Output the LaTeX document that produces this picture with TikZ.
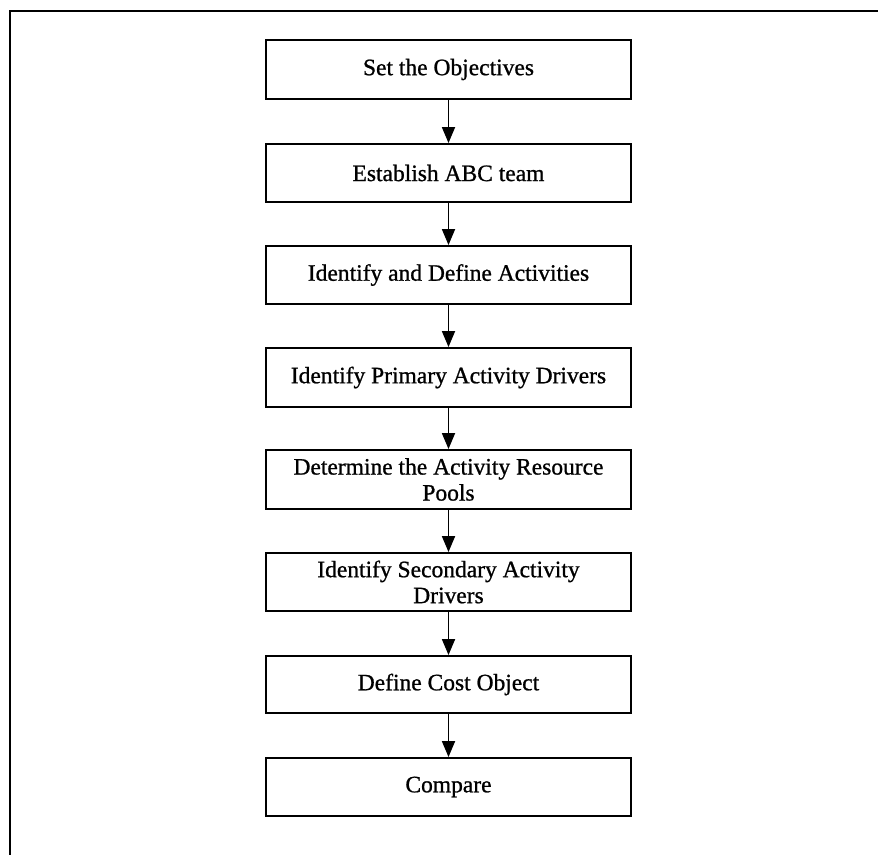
\documentclass[tikz,border=0pt]{standalone}
\usepackage{fontspec}
\setmainfont{Liberation Serif}[FakeBold=0.9]
\usetikzlibrary{arrows.meta}
\begin{document}
\begin{tikzpicture}[x=1pt,y=-1pt,
  stepbox/.style={draw=black,line width=1.9pt,minimum width=365pt,inner sep=0pt,
    align=center,font=\fontsize{23.5}{26}\selectfont,text=black},
  flow/.style={line width=1.8pt,-{Triangle[length=16pt,width=13pt]}}]
  % page area and outer frame (continues past the right and bottom edges)
  \useasboundingbox (0,0) rectangle (878,854);
  \fill[white] (0,0) rectangle (878,854);
  \draw[line width=2pt] (10,890) -- (10,11) -- (890,11);
  % process steps
  \node[stepbox,minimum height=59pt] (s1) at (448.5,69.5) {Set the Objectives};
  \node[stepbox,minimum height=58pt] (s2) at (448.5,173) {Establish ABC team};
  \node[stepbox,minimum height=58pt] (s3) at (448.5,275) {Identify and Define Activities};
  \node[stepbox,minimum height=59pt] (s4) at (448.5,377.5) {Identify Primary Activity Drivers};
  \node[stepbox,minimum height=59pt] (s5) at (448.5,479.5) {Determine the Activity Resource\\Pools};
  \node[stepbox,minimum height=58pt] (s6) at (448.5,582) {Identify Secondary Activity\\Drivers};
  \node[stepbox,minimum height=57pt] (s7) at (448.5,684.5) {Define Cost Object};
  \node[stepbox,minimum height=58pt] (s8) at (448.5,787) {Compare};
  % connectors
  \foreach \a/\b in {s1/s2,s2/s3,s3/s4,s4/s5,s5/s6,s6/s7,s7/s8}
    \draw[flow] (\a.south) -- (\b.north);
\end{tikzpicture}
\end{document}
